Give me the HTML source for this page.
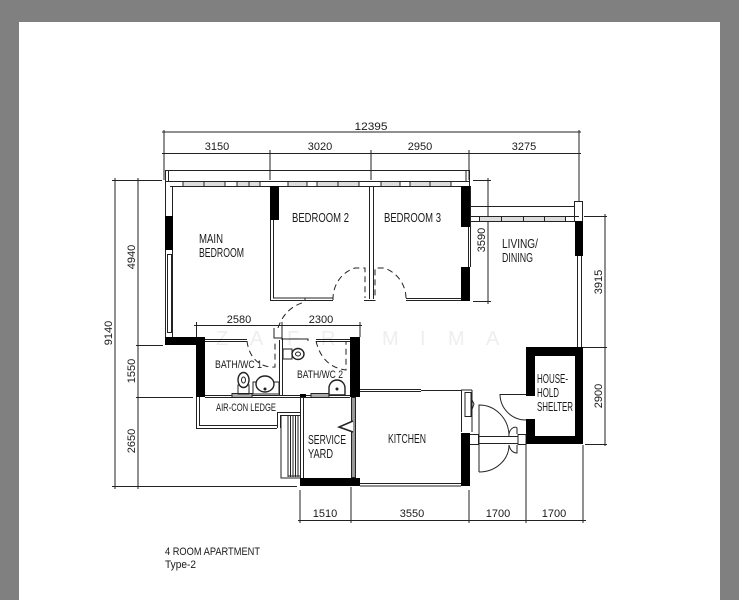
<!DOCTYPE html>
<html><head><meta charset="utf-8"><style>
html,body{margin:0;padding:0;background:#808080}
svg{display:block}
text{font-family:"Liberation Sans",sans-serif;fill:#1a1a1a}
.d text{font-size:11px}
.r text{font-size:12.5px}
</style></head><body>
<svg width="739" height="600" viewBox="0 0 739 600" xmlns="http://www.w3.org/2000/svg">
<rect width="739" height="600" fill="#808080"/>
<rect x="19" y="22" width="701" height="578" fill="#fff"/>
<!-- watermark -->
<g>
<text x="216" y="345" style="fill:#eeeeee;font-size:20px">Z</text><text x="250" y="345" style="fill:#eeeeee;font-size:20px">A</text><text x="287" y="345" style="fill:#eeeeee;font-size:20px">F</text><text x="321" y="345" style="fill:#eeeeee;font-size:20px">R</text><text x="382" y="345" style="fill:#eeeeee;font-size:20px">M</text><text x="420" y="345" style="fill:#eeeeee;font-size:20px">I</text><text x="448" y="345" style="fill:#eeeeee;font-size:20px">M</text><text x="486" y="345" style="fill:#eeeeee;font-size:20px">A</text>
</g>
<!-- dimensions -->
<g stroke="#222" stroke-width="1" fill="none">
<path d="M162 132H581M162 153.500H581M164 130V180M270 150V180M371 150V180M469 150V180M579 130V202"/>
<path d="M115 178V489M138 178V489M112 180.500H162M136 345.500H163M136 397.500H193M112 486.500H297"/>
<path d="M196.500 322V337M282 322V340M360 322V337M194 325.500H362"/>
<path d="M488 178V304M473 180.500H491M473 301.500H491"/>
<path d="M605 214V446M584 216.500H607M580 347.500H607M585 444.500H607"/>
<path d="M298 520.500H586M300 490V523M351 487V523M469 490V523M526 445V523M583 445V523"/>
</g>
<g class="d">
<text x="371" y="130" text-anchor="middle" textLength="33" lengthAdjust="spacingAndGlyphs">12395</text>
<text x="217" y="150" text-anchor="middle">3150</text>
<text x="320" y="150" text-anchor="middle">3020</text>
<text x="420" y="150" text-anchor="middle">2950</text>
<text x="524" y="150" text-anchor="middle">3275</text>
<text x="239" y="323" text-anchor="middle">2580</text>
<text x="321" y="323" text-anchor="middle">2300</text>
<text x="325" y="517" text-anchor="middle">1510</text>
<text x="412" y="517" text-anchor="middle">3550</text>
<text x="498" y="517" text-anchor="middle">1700</text>
<text x="554" y="517" text-anchor="middle">1700</text>
<text transform="translate(135,257) rotate(-90)" text-anchor="middle">4940</text>
<text transform="translate(112,333) rotate(-90)" text-anchor="middle">9140</text>
<text transform="translate(135,371) rotate(-90)" text-anchor="middle">1550</text>
<text transform="translate(135,441) rotate(-90)" text-anchor="middle">2650</text>
<text transform="translate(485,240) rotate(-90)" text-anchor="middle">3590</text>
<text transform="translate(602,282) rotate(-90)" text-anchor="middle">3915</text>
<text transform="translate(602,396) rotate(-90)" text-anchor="middle">2900</text>
</g>
<!-- thin walls / outlines -->
<g stroke="#222" stroke-width="1" fill="none">
<path d="M165 170.500H469M165.500 170V186M168.500 171V181M466 171V181M469.500 170V186"/>
<path d="M165 181.500H470M170 186.500H461"/>
<rect x="183" y="181.500" width="21" height="5" fill="#ddd"/><rect x="204" y="181.500" width="21" height="5" fill="#ddd"/>
<rect x="237" y="181.500" width="12" height="5" fill="#ddd"/><rect x="249" y="181.500" width="11" height="5" fill="#ddd"/>
<rect x="288" y="181.500" width="19" height="5" fill="#ddd"/><rect x="317" y="181.500" width="21" height="5" fill="#ddd"/><rect x="338" y="181.500" width="21" height="5" fill="#ddd"/>
<rect x="381" y="181.500" width="19" height="5" fill="#ddd"/><rect x="410" y="181.500" width="20" height="5" fill="#ddd"/><rect x="430" y="181.500" width="21" height="5" fill="#ddd"/>
<path d="M165.500 186V340M172.500 186V216M172.500 250V337"/>
<rect x="167.500" y="254.500" width="4" height="78"/>
<path d="M270.500 220V300.500H333M273.500 220V298H305M305 298V301M305 298H333"/>
<path d="M369.500 186V299M373.500 186V299M364 300.500H375.500"/>
<path d="M406 298.500H461M406 300.500H461"/>
<path d="M468.500 227V267M470.500 186V267"/>
<path d="M470 206.500H574M470 216.500H574M470 221.500H574"/>
<rect x="479.500" y="216.500" width="22" height="5" fill="#ddd"/><rect x="501.500" y="216.500" width="22" height="5" fill="#ddd"/><rect x="523.500" y="216.500" width="21" height="5" fill="#ddd"/><rect x="544.500" y="216.500" width="21" height="5" fill="#ddd"/>
<rect x="574.500" y="201.500" width="8" height="20" fill="#fff"/>
<path d="M574 216.500H579"/>
<path d="M577.500 256V347M581.500 256V347"/>
<!-- doors -->
<g stroke-dasharray="6 4">
<path d="M333 300A30 32 0 0 1 355 268H365V298"/>
<path d="M406 298A32 32 0 0 0 384 268H375V298"/>
<path d="M278 328C282 316 290 306 305 302"/>
<path d="M247 341C249 358 260 368 275 367V340"/>
<path d="M316 341C320 358 330 368 346 370V341"/>
</g>
<!-- bath -->
<path d="M205 339.500H247M205 341.500H247M316 339.500H350M316 341.500H350"/>
<path d="M279.500 340V395M282.500 338V395M274 328V338H282"/>
<path d="M282 339H308V341"/>
<path d="M205 395.500H350M205 397.500H350"/>
<rect x="232" y="393.500" width="20" height="4" fill="#aaa"/><rect x="311" y="393.500" width="18" height="4" fill="#aaa"/>
<!-- fixtures -->
<path d="M238 385H249V394H238Z"/>
<ellipse cx="243.500" cy="380" rx="5.500" ry="7.500" fill="#fff" stroke-width="1.400"/><ellipse cx="243.500" cy="380" rx="2" ry="3"/>
<path d="M253 382H279V394H253Z"/>
<ellipse cx="265" cy="384" rx="9" ry="8" fill="#fff" stroke-width="1.400"/><circle cx="265" cy="389" r="1" fill="#222"/>
<path d="M283 349H292V359H283Z"/>
<ellipse cx="298" cy="354" rx="6" ry="5.500" fill="#fff" stroke-width="1.400"/><ellipse cx="298" cy="354" rx="2.500" ry="2"/>
<path d="M329 395V388A8 8 0 0 1 345 388V395Z" stroke-width="1.400"/><circle cx="337" cy="389" r="1" fill="#222"/>
<!-- ac ledge -->
<path d="M196.500 397V428.500H277M199.500 397V425.500H277M277.500 428V412.500H300M280.500 428V415.500H300"/>
<!-- stairs -->
<path d="M281 415V478H300M288 416V477M290.500 416V477M293 416V477M295.500 416V477M298 416V477"/>
<path d="M288 476H300"/>
<!-- service yard -->
<path d="M300.500 397V478M303.500 397V478"/>
<rect x="351.500" y="397.500" width="4" height="80" fill="#999"/>
<path d="M353 421L339 427L353 432" stroke-width="1.500" fill="#fff"/>
<!-- kitchen -->
<path d="M360 389.500H421M360 391.500H421M421 390.500H461.500V432M472 390V432M461 390H472"/>
<rect x="465" y="392.500" width="6" height="24"/><path d="M471 398L474 404L471 412"/>
<path d="M360 483.500H461M360 486H461"/>
<!-- entrance -->
<rect x="469.500" y="434.500" width="9" height="10"/><rect x="518" y="434.500" width="8" height="10"/>
<path d="M478 436.500H518M478 443.500H518"/>
<path d="M479 472V405A30 31 0 0 1 509 436M479 472A30 27 0 0 0 509 445"/>
<path d="M509 434C510 428 515 426 517 428V434M509 445C510 450 513 453 517 453V445"/>
<path d="M526 394.500H500A26 26 0 0 0 526 420"/>
</g>
<!-- black walls -->
<g fill="#000">
<rect x="165" y="216" width="8" height="34"/>
<rect x="270" y="186" width="9" height="34"/>
<rect x="461" y="186" width="9" height="41"/>
<rect x="461" y="267" width="9" height="34"/>
<rect x="575" y="221" width="8" height="35"/>
<rect x="165" y="337" width="40" height="8"/>
<rect x="196" y="337" width="9" height="60"/>
<rect x="350" y="337" width="10" height="60"/>
<rect x="300" y="394" width="6" height="3"/>
<rect x="300" y="478" width="60" height="8"/>
<rect x="461" y="433" width="9" height="53"/>
<path fill-rule="evenodd" d="M526 347H583V444H526V434H526V419H535V396H526ZM535 356V436H575V356Z"/>
</g>
<rect x="527" y="396" width="8" height="23" fill="#fff"/>
<!-- rooms -->
<g class="r">
<text x="199" y="243" textLength="24" lengthAdjust="spacingAndGlyphs">MAIN</text>
<text x="199" y="257" textLength="45" lengthAdjust="spacingAndGlyphs">BEDROOM</text>
<text x="292" y="222" textLength="57" lengthAdjust="spacingAndGlyphs">BEDROOM 2</text>
<text x="384" y="222" textLength="57" lengthAdjust="spacingAndGlyphs">BEDROOM 3</text>
<text x="502" y="248" textLength="36" lengthAdjust="spacingAndGlyphs">LIVING/</text>
<text x="502" y="262" textLength="31" lengthAdjust="spacingAndGlyphs">DINING</text>
<text x="215" y="368" textLength="47" lengthAdjust="spacingAndGlyphs" style="font-size:11px">BATH/WC 1</text>
<text x="297" y="378" textLength="46" lengthAdjust="spacingAndGlyphs" style="font-size:11px">BATH/WC 2</text>
<text x="216" y="411" textLength="60" lengthAdjust="spacingAndGlyphs" style="font-size:11px">AIR-CON LEDGE</text>
<text x="308" y="444" textLength="38" lengthAdjust="spacingAndGlyphs">SERVICE</text>
<text x="308" y="458" textLength="25" lengthAdjust="spacingAndGlyphs">YARD</text>
<text x="388" y="443" textLength="38" lengthAdjust="spacingAndGlyphs">KITCHEN</text>
<text x="537" y="383" textLength="31" lengthAdjust="spacingAndGlyphs">HOUSE-</text>
<text x="537" y="397" textLength="22" lengthAdjust="spacingAndGlyphs">HOLD</text>
<text x="537" y="411" textLength="36" lengthAdjust="spacingAndGlyphs">SHELTER</text>
<text x="165" y="555" textLength="95" lengthAdjust="spacingAndGlyphs" style="font-size:11px">4 ROOM APARTMENT</text>
<text x="165" y="568" textLength="31" lengthAdjust="spacingAndGlyphs" style="font-size:11px">Type-2</text>
</g>
</svg>
</body></html>
